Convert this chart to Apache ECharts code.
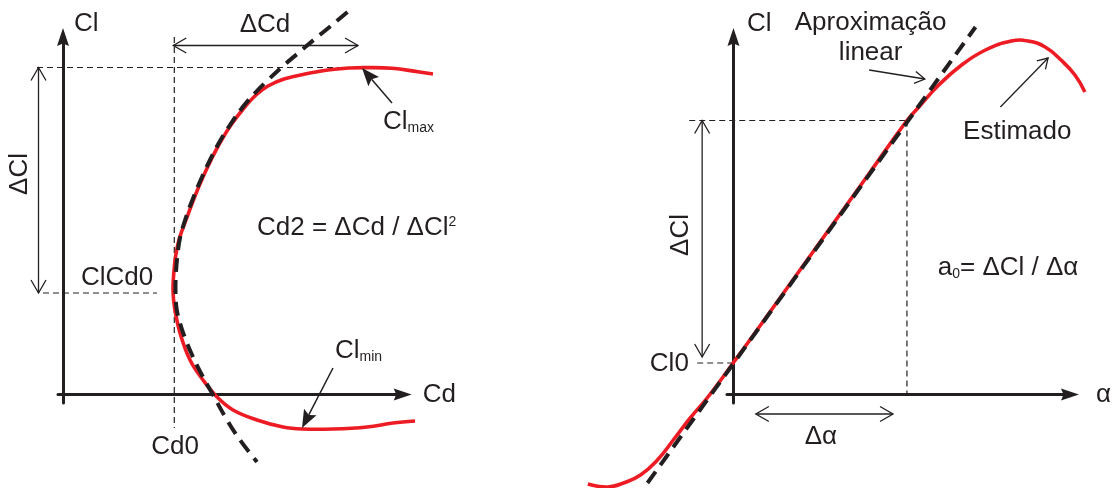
<!DOCTYPE html>
<html>
<head>
<meta charset="utf-8">
<script src="https://cdn.jsdelivr.net/npm/echarts@6/dist/echarts.min.js"></script>
<style>
  html, body { margin: 0; padding: 0; background: #ffffff; }
  #chart { width: 1114px; height: 488px; }
</style>
</head>
<body>
<div id="chart"></div>
<script>
// ---- Drag polar (left panel), Cd on x, Cl on y, schematic units ----
const polarCurve = [
  [35.2, -2.65], [33.0, -2.85], [30.4, -3.25], [27.0, -3.45], [24.0, -3.45],
  [22.0, -3.25], [19.4, -2.55], [17.0, -1.55], [15.4, -0.25], [14.0, 1.45],
  [12.7, 3.45], [11.7, 6.15], [11.15, 8.75], [11.0, 10.45], [11.08, 12.15],
  [11.28, 13.95], [11.65, 15.65], [12.45, 17.85], [13.2, 19.85], [14.0, 21.75],
  [14.9, 23.65], [15.8, 25.35], [16.8, 26.95], [18.1, 28.65], [19.3, 29.95],
  [20.5, 30.85], [22.1, 31.55], [24.2, 32.05], [26.5, 32.45], [28.7, 32.65],
  [30.2, 32.69], [32.9, 32.63], [35.5, 32.27], [37.0, 32.05]
];
// Parabolic fit Cd = Cd0 + Cd2 (Cl - ClCd0)^2
const polarParabola = [
  [28.45, 38.25], [26.9, 36.95], [25.3, 35.65], [23.65, 34.25], [22.0, 32.85],
  [20.5, 31.45], [19.2, 30.15], [17.9, 28.65], [16.7, 26.95], [15.7, 25.35],
  [14.8, 23.65], [13.9, 21.75], [13.1, 19.85], [12.35, 17.85], [11.7, 15.65],
  [11.45, 13.95], [11.3, 12.25], [11.25, 10.45], [11.35, 8.65], [11.7, 7.15],
  [12.2, 5.65], [13.0, 3.75], [14.0, 1.75], [14.9, 0.15], [16.4, -2.55],
  [17.7, -4.55], [19.4, -6.75]
];
const CD0 = 11.13, CL_CD0 = 10.15, CL_MAX = 32.7, CD_CLMAX = 29.5;

// ---- Lift curve (right panel), alpha on x, Cl on y ----
const liftCurve = [
  [-14.65, -8.95], [-12.65, -9.25], [-11.05, -8.85], [-9.35, -8.05],
  [-7.65, -6.55], [-6.05, -4.55], [-4.35, -2.35], [-2.65, -0.35], [-1.05, 1.75],
  [0, 3.2], [1.65, 5.45], [5.65, 11.0], [9.65, 16.55], [13.65, 22.1],
  [17.45, 27.4], [18.65, 28.75], [20.65, 30.95], [22.95, 32.95], [25.35, 34.45],
  [27.95, 35.35], [29.65, 35.35], [31.35, 34.75], [32.95, 33.45], [34.35, 31.95],
  [35.35, 30.25]
];
// Linear approximation Cl = Cl0 + a0 * alpha
const liftLinear = [[-8.65, -8.85], [24.35, 36.75]];
const CL0 = 3.15, CL_REF = 27.4, ALPHA_REF = 17.45;

// ---- styling ----
const INK = '#231f20';
const RED = '#ed1c24';
const FONT = '"Liberation Sans", Arial, Helvetica, sans-serif';
const FS = 26;
const ARROW = 'path://M6,0L12,18L6,15.5L0,18Z';

// thin dashed construction lines: [from, to]
const leftGuides = [
  [[CD0, 35.75], [CD0, -3.35]],
  [[-2.6, CL_MAX], [CD_CLMAX + 0.4, CL_MAX]],
  [[-2.0, CL_CD0], [9.4, CL_CD0]]
];
const rightGuides = [
  [[-4.45, CL_REF], [ALPHA_REF, CL_REF]],
  [[ALPHA_REF, CL_REF], [ALPHA_REF, 0]],
  [[-3.65, CL0], [0, CL0]]
];

// dimension and pointer arrows
const leftArrows = [
  { from: [CD0 - 0.1, 34.9], to: [CD_CLMAX, 34.9], head: 'both' },
  { from: [-2.45, CL_MAX], to: [-2.45, CL_CD0], head: 'both' },
  { from: [32.9, 29.15], to: [29.9, 32.65], head: 'solid' },
  { from: [27.0, 2.65], to: [23.9, -3.35], head: 'solid' }
];
const rightArrows = [
  { from: [-3.15, CL_REF], to: [-3.15, 3.75], head: 'both' },
  { from: [2.25, -1.95], to: [16.05, -1.95], head: 'both' },
  { from: [13.65, 32.45], to: [19.25, 31.55], head: 'open' },
  { from: [26.85, 28.75], to: [31.65, 33.65], head: 'open' }
];

const rich = {
  m: { fontSize: FS, lineHeight: 26, fontFamily: FONT, fill: INK },
  s: { fontSize: 14, lineHeight: 11, verticalAlign: 'bottom', fontFamily: FONT, fill: INK },
  p: { fontSize: 14, lineHeight: 8, verticalAlign: 'top', fontFamily: FONT, fill: INK }
};

const leftLabels = [
  { at: [20.2, 36.95], text: '{m|ΔCd}', align: 'center' },
  { at: [-4.3, 22.05], text: '{m|ΔCl}', align: 'center', rotate: 90 },
  { at: [5.4, 11.65], text: '{m|ClCd0}', align: 'center' },
  { at: [11.2, -5.25], text: '{m|Cd0}', align: 'center' },
  { at: [32.0, 27.25], text: '{m|Cl}{s|max}', align: 'left' },
  { at: [27.2, 4.35], text: '{m|Cl}{s|min}', align: 'left' },
  { at: [19.4, 16.65], text: '{m|Cd2 = ΔCd / ΔCl}{p|2}', align: 'left' }
];
const rightLabels = [
  { at: [13.8, 35.7], text: '{m|Aproximação}\n{m|linear}', align: 'center', lh: 30 },
  { at: [28.55, 26.25], text: '{m|Estimado}', align: 'center' },
  { at: [-5.25, 15.95], text: '{m|ΔCl}', align: 'center', rotate: 90 },
  { at: [-6.45, 3.05], text: '{m|Cl0}', align: 'center' },
  { at: [8.8, -4.25], text: '{m|Δα}', align: 'center' },
  { at: [20.55, 12.65], text: '{m|a}{s|0}{m|= ΔCl / Δα}', align: 'left' }
];

// a whole curve drawn as one polyline through the grid's scales
function curveSeries(idx, name, points, style, smooth) {
  return {
    name, type: 'custom', xAxisIndex: idx, yAxisIndex: idx, silent: true,
    z: style.z, data: points,
    renderItem(params, api) {
      if (params.dataIndex !== 0) return null;
      const pts = points.map(p => api.coord(p));
      return {
        type: 'polyline',
        shape: { points: pts, smooth: smooth || 0, smoothConstraint: false },
        style: {
          stroke: style.color, lineWidth: style.width, fill: null,
          lineDash: style.dash || null, lineJoin: 'round', lineCap: 'butt'
        }
      };
    }
  };
}

function guideSeries(idx, lines) {
  return {
    type: 'custom', xAxisIndex: idx, yAxisIndex: idx, silent: true, z: 1,
    data: lines.map(l => [l[0][0], l[0][1], l[1][0], l[1][1]]),
    renderItem(params, api) {
      const a = api.coord([api.value(0), api.value(1)]);
      const b = api.coord([api.value(2), api.value(3)]);
      return {
        type: 'line',
        shape: { x1: a[0], y1: a[1], x2: b[0], y2: b[1] },
        style: { stroke: INK, lineWidth: 1.2, lineDash: [6, 4], fill: null }
      };
    }
  };
}

function head(tip, from, len, half) {
  const dx = tip[0] - from[0], dy = tip[1] - from[1];
  const d = Math.hypot(dx, dy), ux = dx / d, uy = dy / d;
  const bx = tip[0] - ux * len, by = tip[1] - uy * len;
  return {
    arms: [[bx - uy * half, by + ux * half], tip, [bx + uy * half, by - ux * half]],
    notch: [tip[0] - ux * len * 0.82, tip[1] - uy * len * 0.82]
  };
}

function arrowSeries(idx, arrows) {
  return {
    type: 'custom', xAxisIndex: idx, yAxisIndex: idx, silent: true, z: 4,
    data: arrows.map(a => [a.from[0], a.from[1], a.to[0], a.to[1]]),
    renderItem(params, api) {
      const kind = arrows[params.dataIndex].head;
      const a = api.coord([api.value(0), api.value(1)]);
      const b = api.coord([api.value(2), api.value(3)]);
      const children = [];
      const openStyle = { stroke: INK, lineWidth: 1.3, fill: null };
      if (kind === 'solid') {
        const h = head(b, a, 18, 7);
        children.push({ type: 'line', shape: { x1: a[0], y1: a[1], x2: h.notch[0], y2: h.notch[1] },
          style: { stroke: INK, lineWidth: 1.5 } });
        children.push({ type: 'polygon', shape: { points: [h.arms[0], b, h.arms[2], h.notch] },
          style: { fill: INK, stroke: null } });
      } else {
        const small = kind === 'open';
        const len = small ? 10 : 13, half = small ? 6 : 7.5;
        children.push({ type: 'line', shape: { x1: a[0], y1: a[1], x2: b[0], y2: b[1] }, style: openStyle });
        children.push({ type: 'polyline', shape: { points: head(b, a, len, half).arms }, style: openStyle });
        if (kind === 'both') {
          children.push({ type: 'polyline', shape: { points: head(a, b, len, half).arms }, style: openStyle });
        }
      }
      return { type: 'group', children };
    }
  };
}

function labelSeries(idx, labels) {
  return {
    type: 'custom', xAxisIndex: idx, yAxisIndex: idx, silent: true, z: 5,
    data: labels.map(l => l.at),
    renderItem(params, api) {
      const l = labels[params.dataIndex];
      const p = api.coord([api.value(0), api.value(1)]);
      const r = Object.assign({}, rich);
      if (l.lh) r.m = Object.assign({}, rich.m, { lineHeight: l.lh });
      return {
        type: 'text', x: p[0], y: p[1],
        rotation: l.rotate ? l.rotate * Math.PI / 180 : 0,
        style: {
          text: l.text, rich: r, fill: INK, fontFamily: FONT, fontSize: FS,
          align: l.align, verticalAlign: 'middle'
        }
      };
    }
  };
}

function valueAxis(idx, min, max, name, nameGap, nameStyle) {
  return {
    type: 'value', gridIndex: idx, min, max,
    axisLine: {
      onZero: true, symbol: ['none', ARROW], symbolSize: [15, 18],
      lineStyle: { color: INK, width: 3 }
    },
    axisTick: { show: false }, axisLabel: { show: false }, splitLine: { show: false },
    name, nameLocation: 'end', nameGap,
    nameTextStyle: Object.assign({ color: INK, fontFamily: FONT, fontSize: FS }, nameStyle)
  };
}

const chart = echarts.init(document.getElementById('chart'), null, { renderer: 'canvas' });
chart.setOption({
  animation: false,
  backgroundColor: '#ffffff',
  grid: [
    { left: 58, top: 37, width: 344.7, height: 366 },
    { left: 727, top: 37, width: 345, height: 366 }
  ],
  xAxis: [
    valueAxis(0, -0.5, 33.97, 'Cd', 20, { align: 'left', verticalAlign: 'middle', padding: [0, 0, 9, 0] }),
    valueAxis(1, -0.65, 33.85, 'α', 26, { align: 'left', verticalAlign: 'middle', padding: [0, 0, 4, 0] })
  ],
  yAxis: [
    valueAxis(0, -0.85, 35.75, 'Cl', 13, { align: 'left', verticalAlign: 'middle', padding: [0, 0, 0, 11] }),
    valueAxis(1, -0.85, 35.75, 'Cl', 13, { align: 'left', verticalAlign: 'middle', padding: [0, 0, 0, 13.5] })
  ],
  series: [
    guideSeries(0, leftGuides),
    curveSeries(0, 'Cd(Cl)', polarCurve, { color: RED, width: 3.6, z: 2 }, 0.4),
    curveSeries(0, 'Parábola', polarParabola, { color: INK, width: 4, dash: [14, 8], z: 3 }, 0.4),
    arrowSeries(0, leftArrows),
    labelSeries(0, leftLabels),

    guideSeries(1, rightGuides),
    curveSeries(1, 'Estimado', liftCurve, { color: RED, width: 3.6, z: 2 }, 0.45),
    curveSeries(1, 'Aproximação linear', liftLinear, { color: INK, width: 4, dash: [14, 8], z: 3 }, 0),
    arrowSeries(1, rightArrows),
    labelSeries(1, rightLabels)
  ]
});
</script>
</body>
</html>
